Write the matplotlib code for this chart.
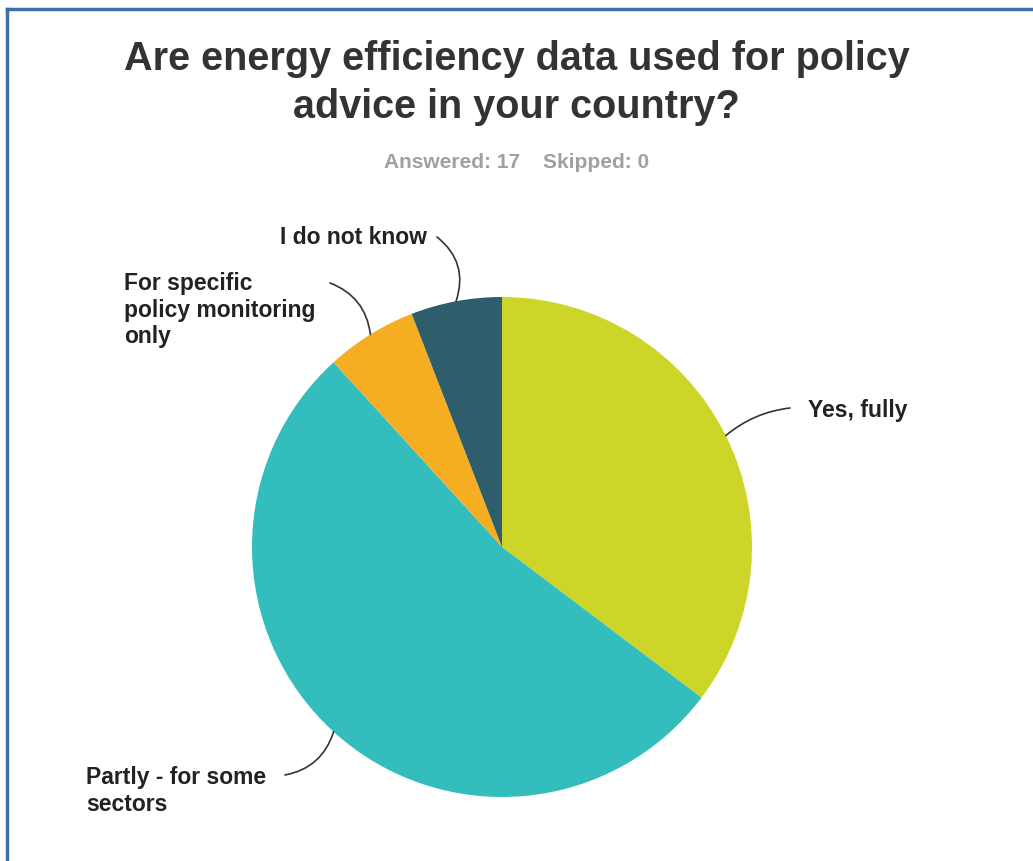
import matplotlib
matplotlib.use("Agg")
import matplotlib.pyplot as plt
import numpy as np
from matplotlib.lines import Line2D

categories = ["Yes, fully", "Partly - for some\nsectors", "For specific\npolicy monitoring\nonly", "I do not know"]
values = [6, 9, 1, 1]
colors = ["#cdd628", "#33bdbd", "#f5ae21", "#2e5d6b"]
title = "Are energy efficiency data used for policy\nadvice in your country?"
subtitle = "Answered: 17    Skipped: 0"

W, H = 1033, 861
fig = plt.figure(figsize=(W / 100, H / 100), dpi=100)
plt.rcParams['font.family'] = ['Liberation Sans', 'DejaVu Sans']

# border
fig.add_artist(Line2D([7 / W, 7 / W], [0, 1 - 9 / H], transform=fig.transFigure, color="#3c6fa6", lw=2.5))
fig.add_artist(Line2D([7 / W, 1], [1 - 9 / H, 1 - 9 / H], transform=fig.transFigure, color="#3c6fa6", lw=2.5))

cx, cy, r = 502, 547, 250
ax = fig.add_axes([(cx - r) / W, (H - cy - r) / H, 2 * r / W, 2 * r / H])
wedges, _ = ax.pie(values, colors=colors, startangle=90, counterclock=False, radius=1.0,
                   wedgeprops=dict(linewidth=0))
ax.set_xlim(-1, 1)
ax.set_ylim(-1, 1)
ax.set_aspect('equal')
ax.axis('off')

fig.text(0.5, 1 - 83 / H, title, ha='center', va='center', fontsize=28.5, fontweight='bold',
         color='#333333', linespacing=1.3)
fig.text(0.5, 1 - 163 / H, subtitle, ha='center', va='center', fontsize=15, fontweight='bold',
         color='#a0a0a0')

# label positions in pixels (text anchor, line end)
label_specs = [
    dict(text=(808, 410), end=(790, 408), ha='left', rad=0.15),
    dict(text=(86, 791), end=(285, 775), ha='left', rad=0.3),
    dict(text=(124, 310), end=(330, 283), ha='left', rad=-0.3),
    dict(text=(280, 237), end=(437, 237), ha='left', rad=-0.35),
]


def px2data(x, y):
    return ((x - cx) / r, (cy - y) / r)


for w, lab, spec in zip(wedges, categories, label_specs):
    mid = np.deg2rad((w.theta1 + w.theta2) / 2)
    p = (np.cos(mid), np.sin(mid))
    tx, ty = px2data(*spec['text'])
    ax.text(tx, ty, lab, ha=spec['ha'], va='center', fontsize=16.5, fontweight='bold',
            color='#222222', linespacing=1.2, clip_on=False)
    ex, ey = px2data(*spec['end'])
    ax.annotate("", xy=p, xytext=(ex, ey), annotation_clip=False,
                arrowprops=dict(arrowstyle='-', color='#333333', lw=1.2,
                                connectionstyle=f"arc3,rad={spec['rad']}",
                                shrinkA=0, shrinkB=0))

fig.savefig("out.png", dpi=100, facecolor='white')
